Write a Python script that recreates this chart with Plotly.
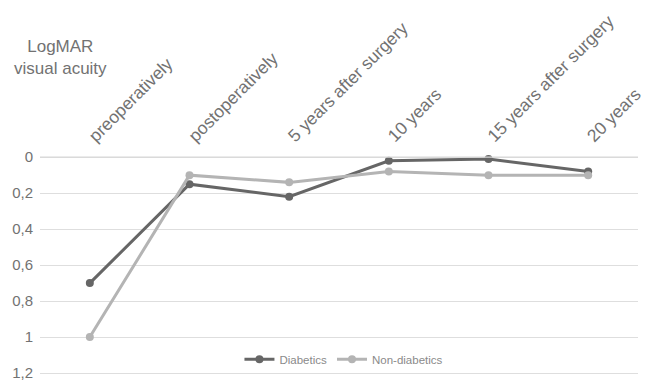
import plotly.graph_objects as go

# Time points after cataract surgery
timepoints = ["preoperatively", "postoperatively", "5 years after surgery",
              "10 years", "15 years after surgery", "20 years"]

# Mean LogMAR visual acuity per group
diabetics = [0.70, 0.15, 0.22, 0.02, 0.01, 0.08]
non_diabetics = [1.00, 0.10, 0.14, 0.08, 0.10, 0.10]

y_ticks = [0, 0.2, 0.4, 0.6, 0.8, 1, 1.2]
y_range = [1.211, -0.04]

font_family = "Liberation Sans, Arial, sans-serif"
text_grey = "#727272"
grid_grey = "#dedede"

# plot area geometry (pixels)
L, R, T, B = 40, 2, 150, 4
W, H = 646, 383
plot_h = H - T - B
plot_w = W - L - R

fig = go.Figure()

# horizontal gridline for the first tick (0)
fig.add_shape(type="line", xref="paper", yref="y", x0=0, x1=1,
              y0=y_ticks[0], y1=y_ticks[0], layer="above",
              line=dict(color="#d8d8d8", width=1.2))

fig.add_trace(go.Scatter(
    x=timepoints, y=diabetics, name="Diabetics", mode="lines+markers",
    line=dict(color="#666666", width=3), marker=dict(size=8, color="#666666"),
    cliponaxis=False,
))
fig.add_trace(go.Scatter(
    x=timepoints, y=non_diabetics, name="Non-diabetics", mode="lines+markers",
    line=dict(color="#b4b4b4", width=3), marker=dict(size=8, color="#b4b4b4"),
    cliponaxis=False,
))

fig.update_layout(
    width=W, height=H,
    margin=dict(l=L, r=R, t=T, b=B),
    paper_bgcolor="white", plot_bgcolor="white",
    separators=", ",
    font=dict(family=font_family, color=text_grey),
    showlegend=True,
    legend=dict(
        orientation="h", x=(347 - L) / plot_w, xanchor="center",
        y=(H - B - 363) / plot_h, yanchor="middle",
        font=dict(size=11.5, color="#8a8a8a"), bgcolor="rgba(0,0,0,0)",
        itemwidth=30, tracegroupgap=0,
    ),
    xaxis=dict(
        type="category", side="top", range=[-0.5, 5.5],
        tickangle=-45, tickfont=dict(size=17.5, color=text_grey),
        showgrid=False, showline=False, ticks="",
    ),
    yaxis=dict(
        range=y_range, tickvals=y_ticks, tickformat=".1~f",
        tickfont=dict(size=15, color=text_grey),
        showgrid=True, gridcolor=grid_grey, gridwidth=1,
        zeroline=False, showline=False, ticks="", ticklabelstandoff=6,
        ticklabeloverflow="allow",
    ),
    annotations=[dict(
        text="LogMAR<br>visual acuity", xref="paper", yref="paper",
        x=(61 - L) / plot_w, y=1 + (T - 33) / plot_h,
        xanchor="center", yanchor="top", showarrow=False,
        font=dict(size=17, color=text_grey, family=font_family), align="center",
    )],
)

fig.write_html("out.html")
